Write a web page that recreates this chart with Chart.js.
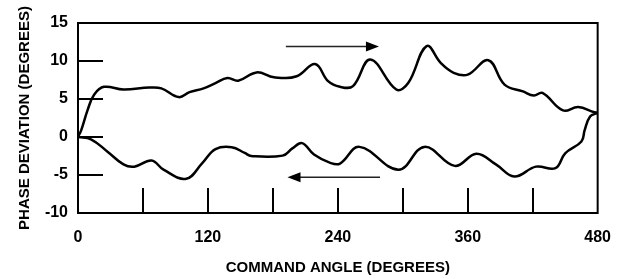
<!DOCTYPE html>
<html>
<head>
<meta charset="utf-8">
<script src="https://cdn.jsdelivr.net/npm/chart.js@4.4.1/dist/chart.umd.min.js"></script>
<style>
  html, body { margin: 0; padding: 0; background: #fff; }
</style>
</head>
<body>
<canvas id="phaseChart" width="626" height="279"></canvas>
<script>
// upper branch (increasing command angle)
const upAngle = [0, 3, 9, 15, 24, 42, 66, 77, 93, 103, 116, 127, 138, 148, 165, 181, 202, 219, 231, 242, 254, 270, 294, 305, 322, 335, 347, 360, 379, 394, 411, 421, 429, 448, 462, 477, 480];
const upPhase = [0, 0.9, 3.6, 5.6, 6.6, 6.25, 6.5, 6.4, 5.25, 5.9, 6.4, 7.1, 7.75, 7.4, 8.5, 7.85, 8.0, 9.6, 7.35, 6.6, 6.7, 10.2, 6.25, 7.1, 11.95, 9.75, 8.45, 8.2, 10.1, 6.9, 6.0, 5.45, 5.8, 3.5, 3.95, 3.25, 3.2];

// lower branch (decreasing command angle)
const downAngle = [480, 473, 468, 465, 450, 441, 423, 403, 386, 368, 348, 320, 296, 260, 242, 233, 218, 207, 198, 189, 160, 154, 142, 127, 115, 100, 79, 68, 52, 42, 27, 12, 0];
const downPhase = [3.2, 2.7, 0.9, -0.6, -2.15, -4.1, -3.9, -5.2, -3.6, -2.2, -3.8, -1.3, -4.3, -1.3, -3.5, -3.4, -2.3, -0.8, -1.5, -2.45, -2.5, -2.1, -1.35, -1.6, -3.4, -5.5, -4.3, -3.1, -3.9, -3.6, -1.9, -0.3, 0];

// tick marks drawn inside the frame
const xMarks = [60, 120, 180, 240, 300, 360, 420];
const yMarks = [-5, 0, 5, 10];

// direction arrows: [start angle, end angle], phase level
const arrowRight = [192, 278];
const arrowRightPhase = 11.9;
const arrowLeft = [279, 193.5];
const arrowLeftPhase = -5.3;

const labelFont = "'Liberation Sans', Arial, sans-serif";

const loopPoints = [];
upAngle.forEach((a, i) => loopPoints.push({ x: a, y: upPhase[i] }));
downAngle.forEach((a, i) => { if (i > 0) loopPoints.push({ x: a, y: downPhase[i] }); });

// frame, inner tick marks and arrows
const decorPlugin = {
    id: 'decor',
    afterDatasetsDraw(chart) {
        const ctx = chart.ctx;
        const area = chart.chartArea;
        const xs = chart.scales.x;
        const ys = chart.scales.y;
        ctx.save();
        ctx.strokeStyle = '#000';
        ctx.lineWidth = 2;
        ctx.strokeRect(area.left, area.top, area.right - area.left, area.bottom - area.top);

        ctx.beginPath();
        xMarks.forEach(v => {
            const px = Math.round(xs.getPixelForValue(v));
            ctx.moveTo(px, area.bottom);
            ctx.lineTo(px, area.bottom - 25);
        });
        yMarks.forEach(v => {
            const py = Math.round(ys.getPixelForValue(v));
            ctx.moveTo(area.left, py);
            ctx.lineTo(area.left + 25, py);
        });
        ctx.stroke();

        function arrow(range, level) {
            const x0 = xs.getPixelForValue(range[0]);
            const x1 = xs.getPixelForValue(range[1]);
            const y = ys.getPixelForValue(level);
            const dir = Math.sign(x1 - x0);
            ctx.strokeStyle = '#222';
            ctx.lineWidth = 1.4;
            ctx.beginPath();
            ctx.moveTo(x0, y);
            ctx.lineTo(x1 - dir * 10, y);
            ctx.stroke();
            ctx.fillStyle = '#000';
            ctx.beginPath();
            ctx.moveTo(x1, y);
            ctx.lineTo(x1 - dir * 13, y - 5);
            ctx.lineTo(x1 - dir * 13, y + 5);
            ctx.closePath();
            ctx.fill();
        }
        arrow(arrowRight, arrowRightPhase);
        arrow(arrowLeft, arrowLeftPhase);
        ctx.restore();
    }
};

new Chart(document.getElementById('phaseChart'), {
    type: 'scatter',
    data: {
        datasets: [{
            data: loopPoints,
            showLine: true,
            borderColor: '#000',
            borderWidth: 2.5,
            pointRadius: 0,
            tension: 0.4,
            fill: false
        }]
    },
    options: {
        responsive: false,
        animation: false,
        layout: { padding: { top: 23, right: 18, left: 0, bottom: 0 } },
        plugins: {
            legend: { display: false },
            tooltip: { enabled: false }
        },
        scales: {
            x: {
                type: 'linear',
                min: 0,
                max: 480,
                afterFit(scale) { scale.height = 66; },
                grid: { display: false, drawTicks: false },
                border: { display: false },
                ticks: {
                    stepSize: 120,
                    padding: 15,
                    color: '#000',
                    font: { family: labelFont, size: 16, weight: 'bold' }
                },
                title: {
                    display: true,
                    text: 'COMMAND ANGLE (DEGREES)',
                    color: '#000',
                    padding: { top: 0, bottom: 2 },
                    font: { family: labelFont, size: 15, weight: 'bold' }
                }
            },
            y: {
                type: 'linear',
                min: -10,
                max: 15,
                afterFit(scale) { scale.width = 78; },
                grid: { display: false, drawTicks: false },
                border: { display: false },
                ticks: {
                    stepSize: 5,
                    padding: 10,
                    color: '#000',
                    font: { family: labelFont, size: 16, weight: 'bold' }
                },
                title: {
                    display: true,
                    text: 'PHASE DEVIATION (DEGREES)',
                    color: '#000',
                    padding: { top: 16, bottom: 0 },
                    font: { family: labelFont, size: 15, weight: 'bold' }
                }
            }
        }
    },
    plugins: [decorPlugin]
});
</script>
</body>
</html>
